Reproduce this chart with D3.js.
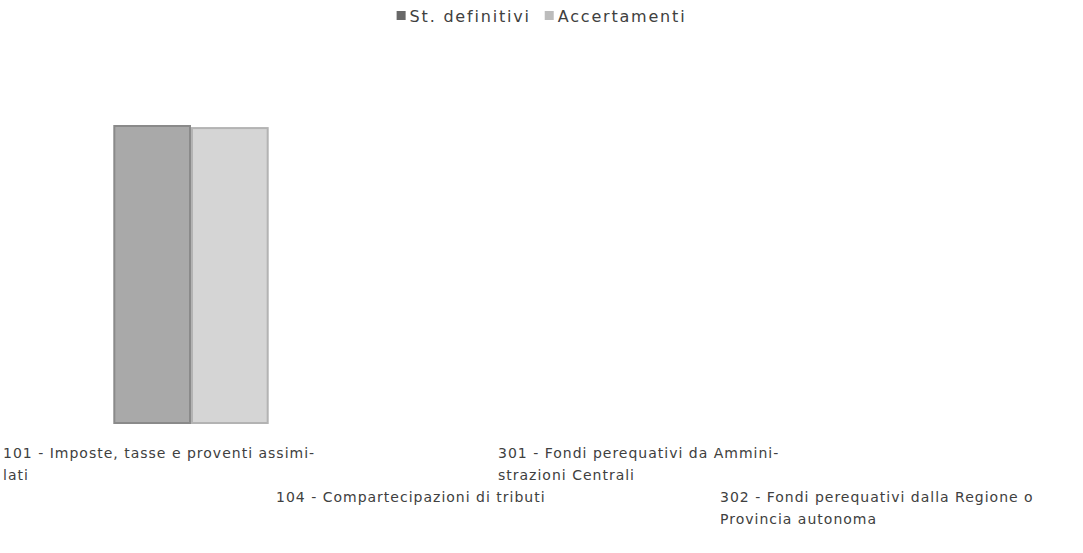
<!DOCTYPE html>
<html>
<head>
<meta charset="utf-8">
<script src="https://cdn.jsdelivr.net/npm/d3@7"></script>
<style>
  body { margin: 0; background: #fff; }
  text { font-family: "DejaVu Sans", Verdana, sans-serif; fill: #404040; }
</style>
</head>
<body>
<svg id="chart"></svg>
<script>
// Chart data
const categories = ["101", "104", "301", "302"];
const tickLabels = [
    ["101 - Imposte, tasse e proventi assimi-", "lati"],
    ["104 - Compartecipazioni di tributi"],
    ["301 - Fondi perequativi da Ammini-", "strazioni Centrali"],
    ["302 - Fondi perequativi dalla Regione o", "Provincia autonoma"]
];
const seriesNames = ["St. definitivi", "Accertamenti"];
const stDefinitivi = [1000, 0, 0, 0];
const accertamenti = [993, 0, 0, 0];

const width = 1083;
const height = 553;

const fills = ["#a9a9a9", "#d5d5d5"];
const strokes = ["#8a8a8a", "#b3b3b3"];
const legendColors = ["#686868", "#bcbcbc"];

const svg = d3.select("#chart")
    .attr("width", width)
    .attr("height", height);

// Scales
const x = d3.scaleBand()
    .domain(categories)
    .range([80, 968])
    .paddingInner(0.3)
    .paddingOuter(0.15);

const x1 = d3.scaleBand()
    .domain(seriesNames)
    .range([0, x.bandwidth()]);

const y = d3.scaleLinear()
    .domain([0, 1000])
    .range([423, 126]);

const table = categories.map((c, i) => ({
    cat: c,
    values: [stDefinitivi[i], accertamenti[i]]
}));

// Bars
const groups = svg.selectAll(".group")
    .data(table)
    .enter().append("g")
    .attr("class", "group")
    .attr("transform", d => `translate(${x(d.cat)},0)`);

groups.selectAll("rect")
    .data(d => d.values.map((v, j) => ({ v, j })).filter(d => d.v > 0))
    .enter().append("rect")
    .attr("x", d => x1(seriesNames[d.j]) + 1)
    .attr("y", d => y(d.v))
    .attr("width", x1.bandwidth() - 2)
    .attr("height", d => y(0) - y(d.v))
    .attr("fill", d => fills[d.j])
    .attr("stroke", d => strokes[d.j])
    .attr("stroke-width", 2);

// Category labels, staggered in two rows
const labelHalf = 137;
const labelMargin = 3;
const lineHeight = 22;
const labels = svg.selectAll(".cat-label")
    .data(categories)
    .enter().append("text")
    .attr("class", "cat-label")
    .style("font-size", "14px")
    .style("letter-spacing", "1px")
    .attr("transform", (d, i) => {
        const cx = x(d) + x.bandwidth() / 2;
        const left = i === 0 ? labelMargin : cx - labelHalf;
        const top = 458 + (i % 2) * 2 * lineHeight;
        return `translate(${left},${top})`;
    });

labels.selectAll("tspan")
    .data((d, i) => tickLabels[i])
    .enter().append("tspan")
    .attr("x", 0)
    .attr("dy", (d, k) => k === 0 ? 0 : lineHeight)
    .text(d => d);

// Legend
const legend = svg.append("g").attr("class", "legend");
let lx = 0;
seriesNames.forEach((name, j) => {
    const item = legend.append("g").attr("transform", `translate(${lx},0)`);
    item.append("rect")
        .attr("x", 0).attr("y", -11)
        .attr("width", 9).attr("height", 9)
        .attr("fill", legendColors[j]);
    const t = item.append("text")
        .attr("x", 13)
        .attr("y", 0)
        .style("font-size", "16px")
        .style("letter-spacing", "1.8px")
        .text(name);
    lx += 13 + t.node().getComputedTextLength() + 14;
});
legend.attr("transform", `translate(${(width - (lx - 14)) / 2},22)`);
</script>
</body>
</html>
